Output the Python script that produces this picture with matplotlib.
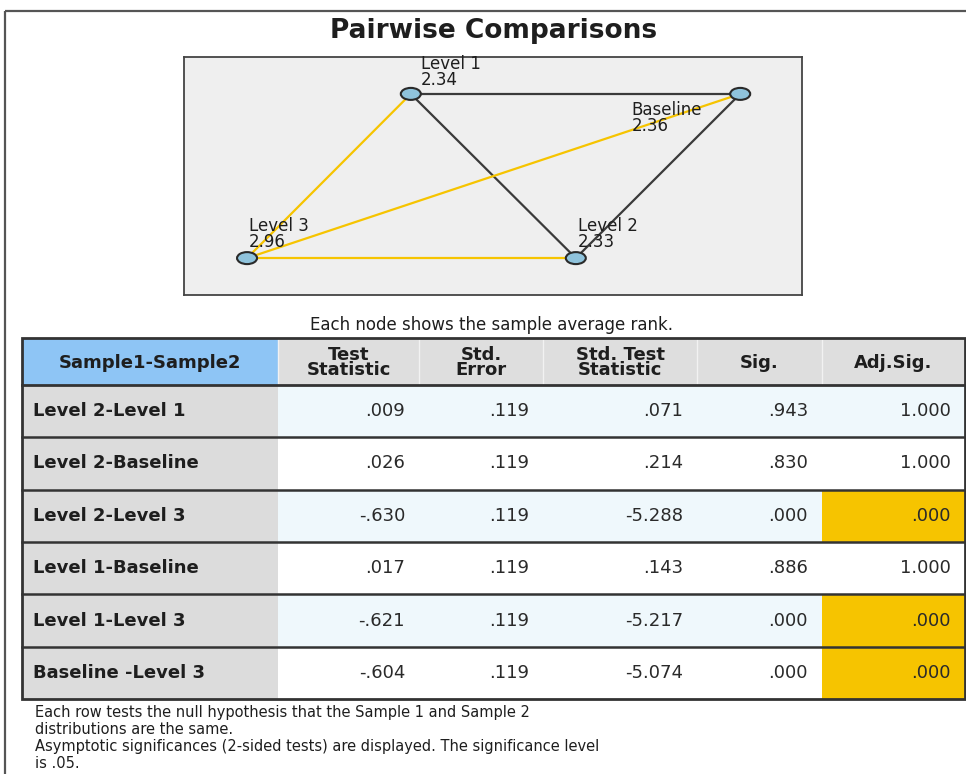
import matplotlib
matplotlib.use("Agg")
import matplotlib.pyplot as plt
from matplotlib.patches import Rectangle, Ellipse

plt.rcParams['font.family'] = ['DejaVu Sans']

# ---------------- data ----------------
title = "Pairwise Comparisons"
node_names = ["Level 1", "Baseline", "Level 3", "Level 2"]
node_ranks = [2.34, 2.36, 2.96, 2.33]
caption = "Each node shows the sample average rank."

col_headers = ["Sample1-Sample2", "Test\nStatistic", "Std.\nError",
               "Std. Test\nStatistic", "Sig.", "Adj.Sig."]
pairs = ["Level 2-Level 1", "Level 2-Baseline", "Level 2-Level 3",
         "Level 1-Baseline", "Level 1-Level 3", "Baseline -Level 3"]
test_stat = [0.009, 0.026, -0.630, 0.017, -0.621, -0.604]
std_error = [0.119, 0.119, 0.119, 0.119, 0.119, 0.119]
std_test_stat = [0.071, 0.214, -5.288, 0.143, -5.217, -5.074]
sig = [0.943, 0.830, 0.000, 0.886, 0.000, 0.000]
adj_sig = [1.000, 1.000, 0.000, 1.000, 0.000, 0.000]
alpha = 0.05

footnote = ["Each row tests the null hypothesis that the Sample 1 and Sample 2",
            "distributions are the same.",
            "Asymptotic significances (2-sided tests) are displayed. The significance level",
            "is .05."]

# ---------------- layout (styles / positions) ----------------
node_layout_x = [0.367, 0.900, 0.102, 0.634]
node_layout_y = [0.845, 0.845, 0.155, 0.155]
label_dx = [0.016, -0.176, 0.003, 0.003]
label_dy = [0.020, -0.030, 0.030, 0.030]
label_va = ["bottom", "top", "bottom", "bottom"]

W, H = 966, 774
col_edges = [22, 278, 419, 543, 697, 822, 965]
header_top, header_bot = 338, 385
row_h = (699 - 385) / 6.0

TXT = "#1e1e1e"
YELLOW = "#f6c400"
EDGE_DARK = "#3a3a3a"


def fmt(v):
    s = f"{v:.3f}"
    if s.startswith("0."):
        s = s[1:]
    elif s.startswith("-0."):
        s = "-" + s[2:]
    return s


fig = plt.figure(figsize=(W / 100, H / 100), dpi=100)
ax = fig.add_axes([0, 0, 1, 1])
ax.set_xlim(0, W)
ax.set_ylim(H, 0)
ax.axis("off")

# outer frame
ax.plot([5, W], [11, 11], color="#555555", lw=1.6, solid_capstyle="butt")
ax.plot([5, 5], [11, H], color="#555555", lw=1.6, solid_capstyle="butt")

ax.text(494, 31, title, ha="center", va="center", fontsize=19,
        fontweight="bold", color=TXT)

# ---------------- network ----------------
bx0, by0, bx1, by1 = 184, 57, 802, 295
net = fig.add_axes([bx0 / W, 1 - by1 / H, (bx1 - bx0) / W, (by1 - by0) / H])
net.set_xlim(0, 1)
net.set_ylim(0, 1)
net.set_facecolor("#efefef")
net.set_xticks([])
net.set_yticks([])
for sp in net.spines.values():
    sp.set_color("#444444")
    sp.set_linewidth(1.3)

idx = {n: i for i, n in enumerate(node_names)}
for pair, a in zip(pairs, adj_sig):
    n1, n2 = [p.strip() for p in pair.split("-", 1)]
    i, j = idx[n1], idx[n2]
    color = YELLOW if a < alpha else EDGE_DARK
    net.plot([node_layout_x[i], node_layout_x[j]],
             [node_layout_y[i], node_layout_y[j]],
             color=color, lw=1.6, zorder=1)

ew = 20 / (bx1 - bx0)
eh = 12 / (by1 - by0)
for i, (name, rank) in enumerate(zip(node_names, node_ranks)):
    net.add_patch(Ellipse((node_layout_x[i], node_layout_y[i]), ew, eh,
                          facecolor="#8fc3dc", edgecolor="#2a2a2a",
                          lw=1.5, zorder=3))
    net.text(node_layout_x[i] + label_dx[i], node_layout_y[i] + label_dy[i],
             f"{name}\n{rank:.2f}", ha="left", va=label_va[i],
             fontsize=12, color=TXT, linespacing=0.85, zorder=4)

ax.text(492, 325, caption, ha="center", va="center", fontsize=12, color=TXT)

# ---------------- table ----------------
for c in range(6):
    x0, x1 = col_edges[c], col_edges[c + 1]
    fc = "#8ec5f5" if c == 0 else "#dedede"
    ax.add_patch(Rectangle((x0, header_top), x1 - x0, header_bot - header_top,
                           facecolor=fc, edgecolor="none", zorder=1))
    ax.text((x0 + x1) / 2, (header_top + header_bot) / 2 + 1, col_headers[c],
            ha="center", va="center", fontsize=13, fontweight="bold",
            color=TXT, linespacing=0.85, zorder=3)
    if c > 0:
        ax.plot([x0, x0], [header_top, header_bot], color="#f2f2f2", lw=1,
                zorder=2)

cols_vals = [test_stat, std_error, std_test_stat, sig, adj_sig]
for r in range(len(pairs)):
    y0 = header_bot + r * row_h
    y1 = y0 + row_h
    yc = (y0 + y1) / 2
    ax.add_patch(Rectangle((col_edges[0], y0), col_edges[1] - col_edges[0],
                           row_h, facecolor="#dcdcdc", edgecolor="none",
                           zorder=1))
    ax.text(col_edges[0] + 11, yc, pairs[r], ha="left", va="center",
            fontsize=13, fontweight="bold", color=TXT, zorder=3)
    band = "#eff8fc" if r % 2 == 0 else "#ffffff"
    for c in range(5):
        x0, x1 = col_edges[c + 1], col_edges[c + 2]
        fc = band
        if c == 4 and adj_sig[r] < alpha:
            fc = YELLOW
        ax.add_patch(Rectangle((x0, y0), x1 - x0, row_h, facecolor=fc,
                               edgecolor="none", zorder=1))
        ax.text(x1 - 14, yc, fmt(cols_vals[c][r]), ha="right", va="center",
                fontsize=13, color="#2a2a2a", zorder=3)
    if r > 0:
        ax.plot([col_edges[0], col_edges[-1]], [y0, y0], color="#333333",
                lw=1.8, zorder=2)

ax.plot([col_edges[0], col_edges[-1]], [header_bot, header_bot],
        color="#333333", lw=2.0, zorder=2)
ax.add_patch(Rectangle((col_edges[0], header_top),
                       col_edges[-1] - col_edges[0], 699 - header_top,
                       facecolor="none", edgecolor="#333333", lw=2.0,
                       zorder=4))

# footnote
for k, line in enumerate(footnote):
    ax.text(35, 712 + 17 * k, line, ha="left", va="center", fontsize=10.5,
            color=TXT, zorder=3)

fig.savefig("out.png", dpi=100)
